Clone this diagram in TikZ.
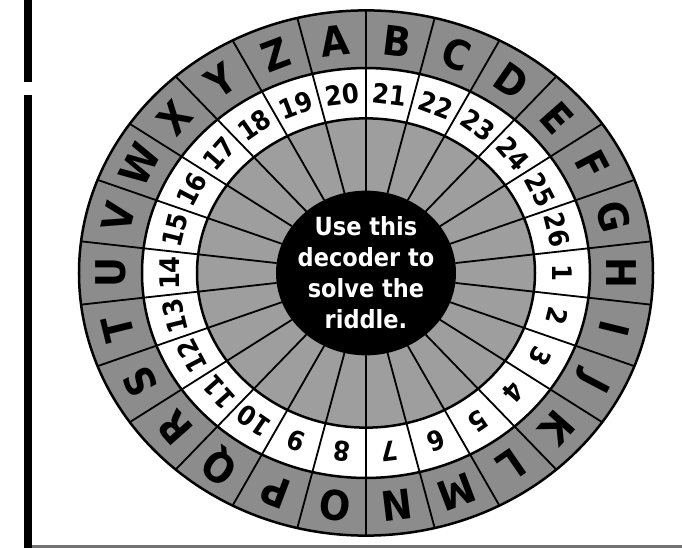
\documentclass[tikz,border=0pt]{standalone}
\usepackage{fontspec}
\setmainfont{DejaVu Sans}
\newfontfamily\wheelfont{DejaVu Sans Condensed}[BoldFont={DejaVu Sans Condensed Bold}]
\begin{document}
\begin{tikzpicture}[x=1pt,y=1pt,
    letterlab/.style={font=\wheelfont\bfseries\fontsize{41}{41}\selectfont,inner sep=0pt},
    numlab/.style={font=\wheelfont\bfseries\fontsize{27}{27}\selectfont,inner sep=0pt},
    ringline/.style={draw=black,line width=2.5pt},
    spoke/.style={line width=1.8pt}
]
\useasboundingbox (-366,-275) rectangle (316,273);
% left rule with its gap, and the cut edge at the bottom
\coordinate (ruletop) at (-338,273);
\coordinate (rulegapa) at (-338,191);
\coordinate (rulegapb) at (-338,178);
\coordinate (rulebot) at (-338,-275);
\coordinate (edgeright) at (316,-273);
\draw[line width=8pt] (ruletop) -- (rulegapa);
\draw[line width=8pt] (rulegapb) -- (rulebot);
\draw[black!55,line width=3pt] (-334,-273) -- (edgeright);
% the wheel
\begin{scope}[yscale=0.915]
\fill[black!45] (0,0) circle (287);
\fill[white] (0,0) circle (224);
\fill[black!38] (0,0) circle (169);
\foreach \j in {0,...,25}
    \draw[spoke] (90+\j*13.846:90) -- (90+\j*13.846:287);
\draw[ringline] (0,0) circle (287);
\draw[ringline] (0,0) circle (224);
\draw[ringline] (0,0) circle (169);
\fill (0,0) circle (90);
\end{scope}
% letters and numbers
\foreach \l [count=\i from 0] in {A,B,C,D,E,F,G,H,I,J,K,L,M,N,O,P,Q,R,S,T,U,V,W,X,Y,Z} {
    \pgfmathsetmacro\ang{96.923-\i*13.846}
    \pgfmathtruncatemacro\n{mod(\i+19,26)+1}
    \node[letterlab,rotate=\ang-90] (let\l) at ({255.5*cos(\ang)},{0.915*255.5*sin(\ang)}) {\l};
    \node[numlab,rotate=\ang-90] (num\n) at ({196.5*cos(\ang)},{0.915*196.5*sin(\ang)}) {\n};
}
\node[align=center,text=white,font=\wheelfont\bfseries\fontsize{25}{31}\selectfont] (hint) at (0,0) {Use this\\decoder to\\solve the\\riddle.};
\end{tikzpicture}
\end{document}
